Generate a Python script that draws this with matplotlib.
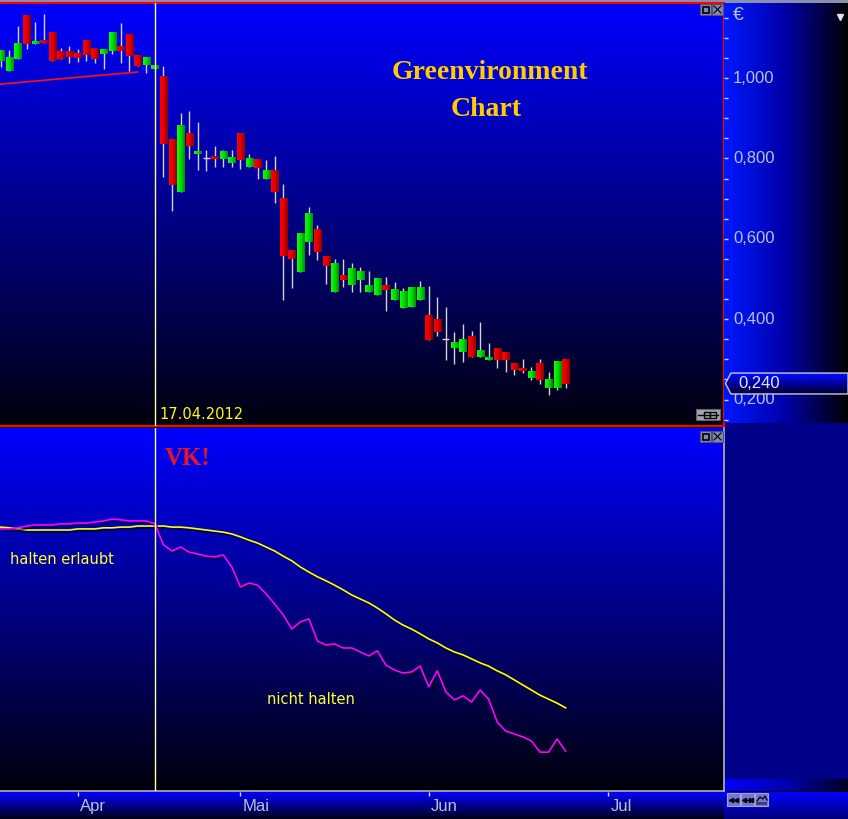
import numpy as np
import pandas as pd
import matplotlib
matplotlib.use("Agg")
import matplotlib.pyplot as plt
import matplotlib.transforms as mtransforms
from matplotlib.colors import LinearSegmentedColormap
from matplotlib.patches import Polygon, Rectangle
from matplotlib.ticker import MultipleLocator
from matplotlib import patheffects as pe
from matplotlib import font_manager

# Handelstage (Xetra-Feiertage ausgelassen)
holidays = ['2012-04-06', '2012-04-09', '2012-05-01']
first_day = '2012-03-20'
signal_day = '2012-04-17'

# Kursdaten Greenvironment (EUR), ab 20.03.2012
opens = [1.042, 1.017, 1.047, 1.157, 1.085, 1.092, 1.112, 1.065, 1.065, 1.060,
         1.092, 1.072, 1.060, 1.067, 1.077, 1.109, 1.057, 1.032, 1.022, 1.005,
         0.846, 0.716, 0.861, 0.811, 0.801, 0.803, 0.799, 0.789, 0.861, 0.779,
         0.796, 0.749, 0.769, 0.701, 0.572, 0.517, 0.592, 0.622, 0.555, 0.468,
         0.510, 0.485, 0.498, 0.468, 0.460, 0.483, 0.448, 0.428, 0.430, 0.448,
         0.408, 0.400, 0.351, 0.328, 0.318, 0.358, 0.306, 0.299, 0.328, 0.318,
         0.291, 0.276, 0.254, 0.291, 0.229, 0.229, 0.301]
highs = [1.067, 1.070, 1.129, 1.157, 1.139, 1.159, 1.112, 1.075, 1.080, 1.072,
         1.092, 1.072, 1.072, 1.112, 1.137, 1.109, 1.057, 1.050, 1.032, 1.030,
         0.846, 0.913, 0.918, 0.891, 0.821, 0.831, 0.821, 0.821, 0.861, 0.811,
         0.796, 0.796, 0.806, 0.736, 0.572, 0.614, 0.679, 0.634, 0.555, 0.550,
         0.550, 0.540, 0.530, 0.520, 0.502, 0.505, 0.493, 0.478, 0.480, 0.495,
         0.483, 0.455, 0.430, 0.368, 0.388, 0.371, 0.393, 0.341, 0.328, 0.318,
         0.291, 0.301, 0.281, 0.301, 0.269, 0.294, 0.301]
lows = [1.027, 1.017, 1.047, 1.072, 1.085, 1.087, 1.042, 1.047, 1.037, 1.040,
        1.042, 1.037, 1.022, 1.060, 1.037, 1.017, 1.030, 1.012, 1.022, 0.754,
        0.669, 0.716, 0.799, 0.771, 0.769, 0.779, 0.779, 0.779, 0.774, 0.779,
        0.749, 0.749, 0.689, 0.448, 0.478, 0.517, 0.560, 0.547, 0.488, 0.468,
        0.480, 0.468, 0.468, 0.468, 0.460, 0.420, 0.448, 0.428, 0.430, 0.448,
        0.348, 0.358, 0.299, 0.289, 0.294, 0.306, 0.306, 0.299, 0.279, 0.269,
        0.261, 0.266, 0.249, 0.239, 0.211, 0.224, 0.229]
closes = [1.067, 1.050, 1.085, 1.085, 1.090, 1.087, 1.042, 1.047, 1.052, 1.050,
          1.057, 1.047, 1.072, 1.112, 1.067, 1.055, 1.030, 1.050, 1.030, 0.836,
          0.734, 0.881, 0.831, 0.818, 0.801, 0.799, 0.818, 0.803, 0.796, 0.801,
          0.776, 0.771, 0.716, 0.557, 0.550, 0.614, 0.664, 0.567, 0.532, 0.540,
          0.498, 0.527, 0.520, 0.483, 0.502, 0.473, 0.475, 0.468, 0.478, 0.480,
          0.348, 0.368, 0.351, 0.341, 0.348, 0.306, 0.321, 0.306, 0.299, 0.299,
          0.274, 0.271, 0.271, 0.249, 0.251, 0.294, 0.240]

# Unterstuetzungslinie
trend_dates = ['2012-03-19', '2012-04-13']
trend_values = [0.983, 1.015]

# Indikator unten (gelb = langsam, magenta = schnell)
ind_slow = [72.7, 72.5, 72.2, 71.9, 71.9, 71.9, 71.9, 71.9, 71.9, 72.2,
            72.2, 72.2, 72.5, 72.5, 72.7, 72.7, 73.0, 73.0, 73.0, 73.0,
            72.7, 72.7, 72.5, 72.2, 71.9, 71.6, 71.3, 70.8, 70.0, 69.1,
            68.3, 67.2, 66.1, 64.7, 63.4, 61.7, 60.3, 59.0, 57.9, 56.7,
            55.4, 54.0, 52.9, 51.8, 50.4, 48.8, 47.1, 45.7, 44.6, 43.3,
            41.9, 40.8, 39.4, 38.3, 37.5, 36.4, 35.3, 34.4, 33.1, 32.0,
            30.6, 29.2, 27.8, 26.4, 25.3, 24.2, 22.9]
ind_fast = [72.2, 72.2, 72.5, 73.0, 73.3, 73.3, 73.3, 73.6, 73.6, 73.8,
            73.8, 74.1, 74.4, 74.9, 74.7, 74.4, 74.4, 74.4, 73.6, 67.8,
            66.1, 67.2, 65.8, 65.3, 64.7, 64.5, 65.0, 61.7, 56.2, 57.3,
            56.7, 54.3, 51.5, 48.5, 44.6, 46.6, 47.4, 41.3, 40.2, 40.5,
            39.4, 39.4, 38.3, 37.2, 38.6, 34.7, 33.3, 32.5, 32.8, 34.4,
            28.7, 33.1, 27.3, 25.1, 26.2, 24.5, 27.8, 25.3, 19.0, 16.5,
            15.7, 14.9, 13.8, 10.7, 10.7, 14.3, 11.0]

price_ticks = [0.2, 0.4, 0.6, 0.8, 1.0]
month_labels = ['Apr', 'Mai', 'Jun', 'Jul']
month_numbers = [4, 5, 6, 7]

# Kalender und x-Positionen
cal = pd.bdate_range('2012-03-01', '2012-07-31', freq='C', holidays=holidays)
pos = pd.Series(np.arange(len(cal)), index=cal)
x0 = pos[pd.Timestamp(first_day)]
xs = x0 + np.arange(len(closes))
x_sig = pos[pd.Timestamp(signal_day)]
month_pos = [pos[cal[cal.month == m][0]] for m in month_numbers]
trend_x = [pos[pd.Timestamp(d)] for d in trend_dates]
xlim = (x0 - 0.1, x0 + 84.5)

names = {f.name for f in font_manager.fontManager.ttflist}
axis_font = 'Liberation Sans Narrow' if 'Liberation Sans Narrow' in names else 'Liberation Sans'
axis_size = 13.5 if axis_font == 'Liberation Sans Narrow' else 12
axis_col = '#B8C0E0'

W, H = 848, 819
fig = plt.figure(figsize=(W / 100, H / 100), dpi=100)
fig.patch.set_facecolor('#000010')


def rect(l, t, w, h):
    return [l / W, 1 - (t + h) / H, w / W, h / H]


def cmap(*cols):
    return LinearSegmentedColormap.from_list('g', list(cols))


vgrad = np.linspace(0, 1, 256).reshape(-1, 1)
hgrad = np.linspace(0, 1, 256).reshape(1, -1)


def fill(ax, grad, cols, extent, transform=None, zorder=0):
    return ax.imshow(grad, cmap=cmap(*cols), extent=extent, aspect='auto',
                     transform=transform if transform is not None else ax.transData,
                     zorder=zorder, interpolation='bilinear')


# Hintergrund in Pixelkoordinaten
bg = fig.add_axes([0, 0, 1, 1])
bg.axis('off')
bg.add_patch(Rectangle((724, 420), W - 724, 359, color='#000088', zorder=1))
fill(bg, hgrad, ['#0000FF', '#0000B0', '#000020'], [724, W, 791, 779], zorder=2)
fill(bg, vgrad, ['#0000FF', '#00007A'], [724, W, 819, 792], zorder=2)
bg.add_patch(Rectangle((0, 0), W, 1.5, color='#8890B0', zorder=3))
bg.set_xlim(0, W)
bg.set_ylim(H, 0)

# Oberes Panel: Kerzen
ax = fig.add_axes(rect(0, 3, 724, 423))
fill(ax, vgrad, ['#0000FF', '#00000E'], [0, 1, 0, 1], transform=ax.transAxes)
ax.plot(trend_x, trend_values, color='#FF1010', lw=1.2, zorder=2)
ax.vlines(xs, lows, highs, color='#D4D4D4', lw=1.0, zorder=2)
red_cm = cmap('#FF0000', '#E00000', '#8C0000')
green_cm = cmap('#10FF10', '#00DC00', '#008C00')
bw = 0.41
for x, o, h, l, c in zip(xs, opens, highs, lows, closes):
    if o == c:
        ax.hlines(o, x - bw, x + bw, color='#D4D4D4', lw=1.0, zorder=3)
        continue
    lo, hi = min(o, c), max(o, c)
    if hi - lo < 0.005:
        mid = (hi + lo) / 2
        lo, hi = mid - 0.0025, mid + 0.0025
    ax.imshow(hgrad, cmap=green_cm if c > o else red_cm, aspect='auto',
              extent=[x - bw, x + bw, lo, hi], zorder=3, interpolation='bilinear')
ax.axvline(x_sig, color='#FFFFA8', lw=1.0, zorder=4)
ax.set_xlim(*xlim)
top_ylim = (0.1343, 1.1866)
ax.set_ylim(*top_ylim)
ax.set_xticks([])
ax.set_yticks([])
ax.spines['left'].set_visible(False)
for s in ['right', 'bottom', 'top']:
    ax.spines[s].set_color('#FF0000')
    ax.spines[s].set_linewidth(1.5)

ax.annotate(pd.Timestamp(signal_day).strftime('%d.%m.%Y'), xy=(x_sig, 0),
            xycoords=('data', 'axes fraction'), xytext=(5, 7), textcoords='offset pixels',
            ha='left', va='baseline', color='#FFFF00', fontsize=10.5, family='DejaVu Sans')
ax.text(0.677, 0.820, 'Greenvironment', transform=ax.transAxes, ha='center', va='baseline',
        color='#FFCC00', fontsize=20, fontweight='bold', family='Liberation Serif')
ax.text(0.671, 0.734, 'Chart', transform=ax.transAxes, ha='center', va='baseline',
        color='#FFCC00', fontsize=20, fontweight='bold', family='Liberation Serif')

# Preisachse rechts
px_per_unit = 423 / (top_ylim[1] - top_ylim[0])
axp = fig.add_axes(rect(724, 3, 124, 420))
fill(axp, hgrad, ['#0018FF', '#0000A8', '#000000'], [0, 1, 0, 1], transform=axp.transAxes)
for s in axp.spines.values():
    s.set_visible(False)
axp.set_xticks([])
axp.yaxis.set_major_locator(MultipleLocator(0.05))
axp.tick_params(axis='y', direction='in', length=3, width=1, color='#D0D8F0',
                labelleft=False, left=True)
blend = mtransforms.blended_transform_factory(axp.transAxes, axp.transData)
for v in price_ticks:
    axp.text(0.073, v, f'{v:.3f}'.replace('.', ','), transform=blend, ha='left',
             va='center', color=axis_col, fontsize=axis_size, family=axis_font)
last = closes[-1]
hh = 0.026
marker = Polygon([(0.012, last), (0.056, last + hh), (1.0, last + hh),
                  (1.0, last - hh), (0.056, last - hh)], closed=True,
                 transform=blend, fc='none', ec='#C8C8D8', lw=1.0, zorder=5)
axp.add_patch(marker)
im = fill(axp, vgrad, ['#0010FF', '#0000A0', '#000028'], [0, 1, last - hh, last + hh],
          transform=blend, zorder=4)
im.set_clip_path(marker)
axp.text(0.113, last, f'{last:.3f}'.replace('.', ','), transform=blend, ha='left',
         va='center', color='#E0E8FF', fontsize=axis_size, family=axis_font, zorder=6)
axp.set_xlim(0, 1)
axp.set_ylim(top_ylim[1] - 420 / px_per_unit, top_ylim[1])

# Unteres Panel: Indikator
ax2 = fig.add_axes(rect(0, 428, 724, 363))
fill(ax2, vgrad, ['#0000FF', '#00000A'], [0, 1, 0, 1], transform=ax2.transAxes)
shadow = [pe.SimpleLineShadow(offset=(1.5, -1.5), shadow_color='black', alpha=0.6), pe.Normal()]
ax2.plot(xs, ind_slow, color='#FFFF00', lw=1.2, path_effects=shadow, zorder=3)
ax2.plot(xs, ind_fast, color='#FF00FF', lw=1.2, path_effects=shadow, zorder=3)
ax2.axvline(x_sig, color='#FFFFA8', lw=1.0, zorder=4)
ax2.set_xlim(*xlim)
ax2.set_ylim(0, 100)
ax2.set_xticks([])
ax2.set_yticks([])
for s in ['left', 'top']:
    ax2.spines[s].set_visible(False)
for s in ['right', 'bottom']:
    ax2.spines[s].set_color('#B4B4C0')
    ax2.spines[s].set_linewidth(1.2)
ax2.text(0.228, 0.898, 'VK!', transform=ax2.transAxes, ha='left', va='baseline',
         color='#E8161E', fontsize=18, fontweight='bold', family='Liberation Serif')
ax2.text(0.0138, 0.625, 'halten erlaubt', transform=ax2.transAxes, ha='left', va='baseline',
         color='#FFFF30', fontsize=10.5, family='DejaVu Sans')
ax2.text(0.369, 0.240, 'nicht halten', transform=ax2.transAxes, ha='left', va='baseline',
         color='#FFFF30', fontsize=10.5, family='DejaVu Sans')

# Datumsachse
ax3 = fig.add_axes(rect(0, 792, 724, 27))
fill(ax3, vgrad, ['#0000FF', '#000018'], [0, 1, 0, 1], transform=ax3.transAxes)
ax3.set_xlim(*xlim)
ax3.set_ylim(0, 1)
for s in ax3.spines.values():
    s.set_visible(False)
ax3.set_yticks([])
ax3.set_xticks(month_pos)
ax3.tick_params(axis='x', top=True, bottom=False, direction='in', length=3, width=1,
                color='#E0E0E0', labelbottom=False)
lbl_tr = mtransforms.offset_copy(mtransforms.blended_transform_factory(ax3.transData, ax3.transAxes),
                                 fig=fig, x=2, y=0, units='dots')
for mp, lbl in zip(month_pos, month_labels):
    ax3.text(mp, 0.45, lbl, transform=lbl_tr, ha='left', va='center',
             color=axis_col, fontsize=axis_size, family=axis_font)

# Fenster-Symbole
ov = fig.add_axes([0, 0, 1, 1], zorder=10)
ov.axis('off')


def win_icons(y):
    ov.add_patch(Rectangle((700, y), 11, 11, fc='#8088B0', ec='#505070', lw=0.8))
    ov.add_patch(Rectangle((712, y), 11, 11, fc='#8088B0', ec='#505070', lw=0.8))
    ov.add_patch(Rectangle((702.5, y + 2.5), 6, 6, fill=False, ec='black', lw=1.2))
    ov.plot([714, 721], [y + 2, y + 9], color='black', lw=0.8)
    ov.plot([714, 721], [y + 9, y + 2], color='black', lw=0.8)


win_icons(4)
win_icons(431)
ov.add_patch(Rectangle((696, 409), 24, 11, fc='#A4A4AC', ec='#606068', lw=0.8))
ov.plot([698, 718], [414.5, 414.5], color='black', lw=1)
ov.add_patch(Rectangle((703.5, 411.5), 6, 6, fc='#A4A4AC', ec='black', lw=1))
ov.add_patch(Rectangle((709.5, 411.5), 6, 6, fc='#A4A4AC', ec='black', lw=1))
for bx in [727, 741, 755]:
    ov.add_patch(Rectangle((bx, 793), 13, 13, fc='#7474D4', ec='#A0A0F0', lw=0.8))
ov.plot([729, 738], [799.5, 799.5], color='black', lw=0.9)
ov.plot([731, 736], [799.5, 799.5], ls='none', marker='<', ms=3, color='black')
ov.plot([743, 752], [799.5, 799.5], color='black', lw=0.9)
ov.plot([744, 751], [799.5, 799.5], ls='none', marker='<', ms=3, color='black')
ov.plot([751], [799.5], ls='none', marker='>', ms=3, color='black')
ov.plot([757, 760, 763, 765, 767], [801, 797, 799, 796, 800], color='black', lw=0.9)
ov.add_patch(Rectangle((756, 802), 11, 3, fc='#404068', lw=0))
ov.plot([840], [17], marker='v', ms=4, color='#E0E0F0')
ov.text(733, 16, '€', color=axis_col, fontsize=14, ha='left', va='center', family=axis_font)
ov.set_xlim(0, W)
ov.set_ylim(H, 0)

fig.savefig('out.png', dpi=100, facecolor=fig.get_facecolor())
